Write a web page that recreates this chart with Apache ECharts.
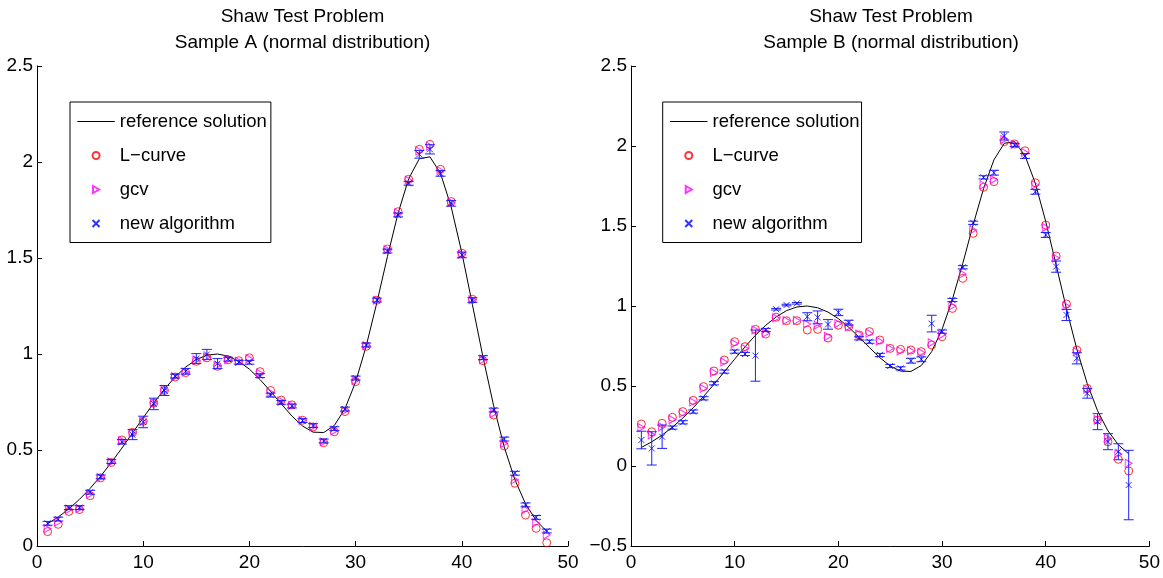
<!DOCTYPE html>
<html>
<head>
<meta charset="utf-8">
<script src="https://cdn.jsdelivr.net/npm/echarts@6/dist/echarts.min.js"></script>
<style>html,body{margin:0;padding:0;background:#fff}#c{width:1163px;height:578px}</style>
</head>
<body>
<div id="c"></div>
<script>
// ---- data ----
const xIndex = [1,2,3,4,5,6,7,8,9,10,11,12,13,14,15,16,17,18,19,20,21,22,23,24,25,26,27,28,29,30,31,32,33,34,35,36,37,38,39,40,41,42,43,44,45,46,47,48];
const referenceSolution = [0.116,0.151,0.193,0.243,0.300,0.364,0.435,0.510,0.589,0.668,0.745,0.817,0.880,0.932,0.971,0.994,1.000,0.989,0.962,0.921,0.867,0.805,0.740,0.677,0.625,0.593,0.591,0.628,0.715,0.854,1.042,1.267,1.508,1.733,1.913,2.017,2.027,1.940,1.766,1.528,1.257,0.983,0.730,0.515,0.345,0.220,0.133,0.076];

const newA = [0.118,0.14,0.20,0.20,0.28,0.36,0.44,0.543,0.58,0.646,0.74,0.81,0.885,0.91,0.976,0.998,0.95,0.973,0.957,0.957,0.887,0.786,0.748,0.729,0.653,0.627,0.547,0.611,0.713,0.875,1.047,1.281,1.536,1.724,1.889,2.04,2.066,1.941,1.785,1.516,1.281,0.981,0.708,0.557,0.379,0.214,0.149,0.078];
const errA = [0.01,0.01,0.01,0.01,0.01,0.01,0.01,0.012,0.026,0.03,0.03,0.026,0.01,0.015,0.026,0.026,0.026,0.01,0.01,0.01,0.01,0.01,0.01,0.01,0.01,0.01,0.01,0.01,0.01,0.01,0.01,0.01,0.01,0.01,0.01,0.02,0.024,0.015,0.015,0.015,0.012,0.01,0.01,0.01,0.01,0.01,0.01,0.01];
const lcurveA = [0.075,0.113,0.18,0.19,0.262,0.355,0.435,0.552,0.592,0.65,0.745,0.81,0.88,0.903,0.962,0.98,0.936,0.97,0.965,0.98,0.908,0.81,0.76,0.735,0.655,0.62,0.538,0.595,0.70,0.856,1.04,1.28,1.547,1.741,1.91,2.066,2.092,1.962,1.794,1.525,1.285,0.965,0.682,0.521,0.327,0.161,0.092,0.017];
const gcvA = [0.09,0.125,0.19,0.195,0.27,0.357,0.437,0.548,0.587,0.648,0.743,0.81,0.882,0.905,0.967,0.985,0.94,0.97,0.962,0.975,0.90,0.80,0.755,0.732,0.654,0.622,0.542,0.60,0.705,0.862,1.043,1.28,1.543,1.735,1.905,2.058,2.082,1.955,1.79,1.52,1.283,0.97,0.69,0.535,0.345,0.19,0.12,0.057];

const newB = [0.1625,0.11,0.183,0.24,0.273,0.34,0.423,0.517,0.59,0.715,0.70,0.69,0.85,0.98,1.006,1.017,0.933,0.929,0.885,0.96,0.896,0.798,0.777,0.694,0.625,0.61,0.658,0.667,0.89,0.84,1.0375,1.242,1.52,1.804,1.833,2.0625,2.006,1.9375,1.714,1.444,1.246,0.944,0.673,0.454,0.277,0.152,0.089,-0.119];
const errB = [0.055,0.104,0.073,0.01,0.01,0.01,0.01,0.01,0.01,0.01,0.01,0.16,0.01,0.005,0.005,0.005,0.025,0.04,0.03,0.02,0.015,0.01,0.01,0.01,0.01,0.01,0.015,0.015,0.052,0.01,0.01,0.01,0.01,0.01,0.015,0.025,0.01,0.015,0.015,0.015,0.035,0.035,0.035,0.03,0.05,0.05,0.05,0.217];
const lcurveB = [0.2625,0.214,0.267,0.304,0.34,0.41,0.496,0.594,0.6625,0.777,0.746,0.854,0.825,0.93,0.908,0.908,0.85,0.854,0.80,0.88,0.871,0.819,0.84,0.7875,0.735,0.729,0.725,0.715,0.756,0.808,0.985,1.173,1.454,1.742,1.777,2.027,2.0125,1.97,1.77,1.506,1.3125,1.0125,0.725,0.485,0.2875,0.152,0.042,-0.031];
const gcvB = [0.24,0.195,0.245,0.29,0.33,0.40,0.485,0.585,0.65,0.765,0.735,0.85,0.83,0.925,0.91,0.91,0.8875,0.88,0.81,0.89,0.87,0.825,0.83,0.78,0.735,0.72,0.72,0.71,0.77,0.82,1.0,1.20,1.475,1.757,1.79,2.04,2.01,1.96,1.757,1.49,1.30,1.0,0.715,0.48,0.29,0.173,0.075,0.017];

const titlesLine1 = ['Shaw Test Problem', 'Shaw Test Problem'];
const titlesLine2 = ['Sample A (normal distribution)', 'Sample B (normal distribution)'];
const seriesNames = ['reference solution', 'L\u2212curve', 'gcv', 'new algorithm'];

// ---- styling ----
const FONT = 'Liberation Sans, Arial, Helvetica, sans-serif';
const FS = 19;
const triPath = 'path://M0,0L8.66,5L0,10Z';
const xPath = 'path://M0,0L10,10M10,0L0,10';
const linePath = 'path://M0,0H40V1H0Z';

const pairs = (ys) => xIndex.map((x, i) => [x, ys[i]]);
const errData = (ys, es) => xIndex.map((x, i) => [x, ys[i] - es[i], ys[i] + es[i]]);

function errRender(params, api) {
  const x = api.value(0), lo = api.value(1), hi = api.value(2);
  const p1 = api.coord([x, lo]), p2 = api.coord([x, hi]);
  const w = 5;
  const style = { stroke: '#1f1fff', lineWidth: 1, fill: null };
  return { type: 'group', children: [
    { type: 'line', shape: { x1: p1[0], y1: p1[1], x2: p2[0], y2: p2[1] }, style },
    { type: 'line', shape: { x1: p1[0] - w, y1: p1[1], x2: p1[0] + w, y2: p1[1] }, style },
    { type: 'line', shape: { x1: p2[0] - w, y1: p2[1], x2: p2[0] + w, y2: p2[1] }, style }
  ]};
}

function xAxisCfg(gi) {
  return {
    gridIndex: gi, type: 'value', min: 0, max: 50, interval: 10,
    axisLine: { show: true, onZero: false, lineStyle: { color: '#000', width: 1 } },
    axisTick: { show: true, inside: true, length: 5, lineStyle: { color: '#000' } },
    axisLabel: { color: '#000', fontSize: FS, fontFamily: FONT, margin: 7 },
    splitLine: { show: false }
  };
}
function yAxisCfg(gi, min) {
  return {
    gridIndex: gi, type: 'value', min: min, max: 2.5, interval: 0.5,
    axisLine: { show: true, onZero: false, lineStyle: { color: '#000', width: 1 } },
    axisTick: { show: true, inside: true, length: 5, lineStyle: { color: '#000' } },
    axisLabel: { color: '#000', fontSize: FS, fontFamily: FONT, margin: 4,
      formatter: v => String(v).replace('-', '\u2212') },
    splitLine: { show: false }
  };
}
function legendCfg(left, padRight) {
  return {
    orient: 'vertical', left: left, top: 102, selectedMode: false,
    padding: [9.5, padRight, 9, 7.3],
    itemWidth: 37.5, itemHeight: 7, itemGap: 14,
    borderColor: '#000', borderWidth: 1, backgroundColor: '#fff',
    textStyle: { color: '#000', fontSize: 18.5, fontFamily: FONT, lineHeight: 20 },
    data: [
      { name: seriesNames[0], icon: linePath, itemStyle: { color: '#000' } },
      { name: seriesNames[1], icon: 'circle' },
      { name: seriesNames[2], icon: triPath },
      { name: seriesNames[3], icon: xPath }
    ]
  };
}
function panelSeries(gi, lc, gc, nw, er) {
  return [
    { name: seriesNames[0], type: 'line', xAxisIndex: gi, yAxisIndex: gi, data: pairs(referenceSolution),
      symbol: 'none', lineStyle: { color: '#000', width: 1 }, itemStyle: { color: '#000' }, z: 2 },
    { name: seriesNames[1], type: 'scatter', xAxisIndex: gi, yAxisIndex: gi, data: pairs(lc),
      symbol: 'circle', symbolSize: 8,
      itemStyle: { color: 'rgba(0,0,0,0)', borderColor: '#ff0000', borderWidth: 1 }, z: 3 },
    { name: seriesNames[2], type: 'scatter', xAxisIndex: gi, yAxisIndex: gi, data: pairs(gc),
      symbol: triPath, symbolSize: [7, 8],
      itemStyle: { color: 'rgba(0,0,0,0)', borderColor: '#ff00ff', borderWidth: 1 }, z: 4 },
    { name: 'error bars', type: 'custom', xAxisIndex: gi, yAxisIndex: gi, data: errData(nw, er),
      renderItem: errRender, encode: { x: 0, y: [1, 2] }, z: 5 },
    { name: seriesNames[3], type: 'scatter', xAxisIndex: gi, yAxisIndex: gi, data: pairs(nw),
      symbol: xPath, symbolSize: 6,
      itemStyle: { color: 'rgba(0,0,0,0)', borderColor: '#0000ff', borderWidth: 1 }, z: 6 }
  ];
}

const chart = echarts.init(document.getElementById('c'), null, { renderer: 'canvas' });
chart.setOption({
  animation: false,
  backgroundColor: '#fff',
  title: [
    { text: titlesLine1[0] + '\n' + titlesLine2[0], left: 302.5, top: 4, padding: 0, textAlign: 'center',
      textStyle: { fontSize: FS, fontWeight: 'normal', color: '#000', fontFamily: FONT, lineHeight: 26 } },
    { text: titlesLine1[1] + '\n' + titlesLine2[1], left: 891, top: 4, padding: 0, textAlign: 'center',
      textStyle: { fontSize: FS, fontWeight: 'normal', color: '#000', fontFamily: FONT, lineHeight: 26 } }
  ],
  legend: [legendCfg(70, 4), legendCfg(662.7, 2)],
  grid: [
    { left: 37, top: 66, width: 531, height: 480 },
    { left: 631, top: 66, width: 520, height: 480 }
  ],
  xAxis: [xAxisCfg(0), xAxisCfg(1)],
  yAxis: [yAxisCfg(0, 0), yAxisCfg(1, -0.5)],
  series: panelSeries(0, lcurveA, gcvA, newA, errA).concat(panelSeries(1, lcurveB, gcvB, newB, errB))
});
</script>
</body>
</html>
